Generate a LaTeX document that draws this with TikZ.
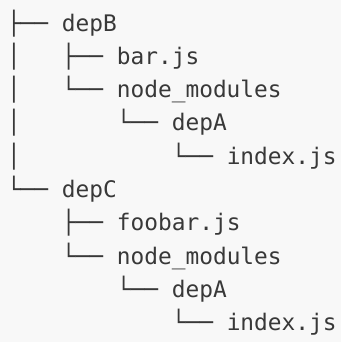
\documentclass[tikz,border=0pt]{standalone}
\usepackage{fontspec}
\setmonofont{DejaVu Sans Mono}
\definecolor{bgc}{HTML}{F8F8F8}
\definecolor{txt}{HTML}{383838}
\tikzset{
  treeline/.style={anchor=base west, inner sep=0pt, outer sep=0pt, text=txt,
    font=\ttfamily\fontsize{22.9pt}{33pt}\selectfont}
}
\begin{document}
\begin{tikzpicture}[x=1bp,y=1bp]
\fill[bgc] (0,0) rectangle (341,342);
\useasboundingbox (0,0) rectangle (341,342);
\def\xo{7}
\node[treeline] (l0) at (\xo,{342-31-0*33.3}) {├──~depB};
\node[treeline] (l1) at (\xo,{342-31-1*33.3}) {│~~~├──~bar.js};
\node[treeline] (l2) at (\xo,{342-31-2*33.3}) {│~~~└──~node\_modules};
\node[treeline] (l3) at (\xo,{342-31-3*33.3}) {│~~~~~~~└──~depA};
\node[treeline] (l4) at (\xo,{342-31-4*33.3}) {│~~~~~~~~~~~└──~index.js};
\node[treeline] (l5) at (\xo,{342-31-5*33.3}) {└──~depC};
\node[treeline] (l6) at (\xo,{342-31-6*33.3}) {~~~~├──~foobar.js};
\node[treeline] (l7) at (\xo,{342-31-7*33.3}) {~~~~└──~node\_modules};
\node[treeline] (l8) at (\xo,{342-31-8*33.3}) {~~~~~~~~└──~depA};
\node[treeline] (l9) at (\xo,{342-31-9*33.3}) {~~~~~~~~~~~~└──~index.js};
\end{tikzpicture}
\end{document}
